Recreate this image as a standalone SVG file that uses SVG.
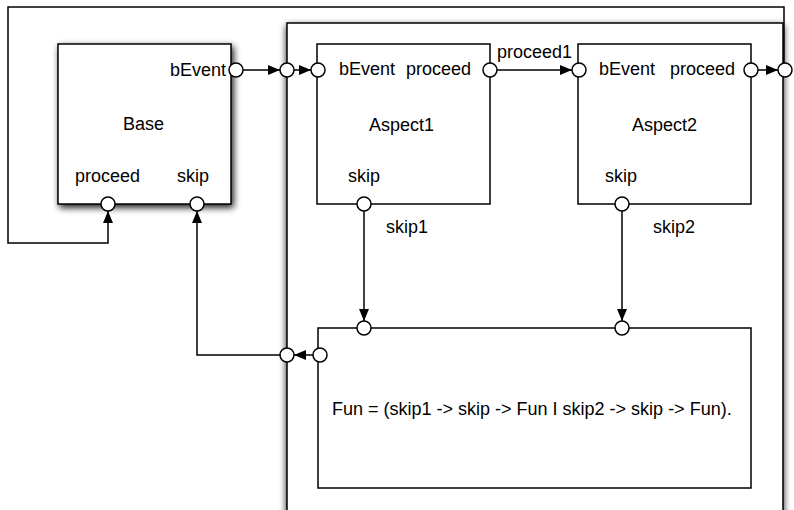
<svg xmlns="http://www.w3.org/2000/svg" width="794" height="510" viewBox="0 0 794 510">
  <style>
    .box { fill: #fff; stroke: #000; stroke-width: 1.5; }
    .port { fill: #fff; stroke: #000; stroke-width: 1.5; }
    .wire { fill: none; stroke: #000; stroke-width: 1.5; }
    text { font-family: "Liberation Sans", Arial, Helvetica, sans-serif; font-size: 18px; fill: #000; }
    .mid { text-anchor: middle; }
    .end { text-anchor: end; }
  </style>
  <defs>
    <filter id="shadow" x="-15%" y="-15%" width="135%" height="135%">
      <feGaussianBlur in="SourceAlpha" stdDeviation="3.5"/>
      <feOffset dx="2" dy="3" result="blur"/>
      <feComponentTransfer><feFuncA type="linear" slope="0.9"/></feComponentTransfer>
      <feMerge><feMergeNode/><feMergeNode in="SourceGraphic"/></feMerge>
    </filter>
    <filter id="shadow-wide" x="-10%" y="-10%" width="125%" height="125%">
      <feGaussianBlur in="SourceAlpha" stdDeviation="3.5"/>
      <feOffset dx="0" dy="3" result="blur"/>
      <feComponentTransfer><feFuncA type="linear" slope="0.9"/></feComponentTransfer>
      <feMerge><feMergeNode/><feMergeNode in="SourceGraphic"/></feMerge>
    </filter>
    <marker id="arrow" viewBox="0 0 12 10" refX="12" refY="5" markerWidth="12" markerHeight="10" markerUnits="userSpaceOnUse" orient="auto">
      <path d="M0,0 L12,5 L0,10 Z" fill="#000"/>
    </marker>
  </defs>

  <rect width="794" height="510" fill="#fff"/>

  <!-- composite container -->
  <g id="container">
    <rect class="box" x="287" y="23" width="496" height="500" filter="url(#shadow-wide)"/>
  </g>

  <!-- connectors -->
  <g id="connectors">
    <line class="wire" x1="243" y1="70" x2="280" y2="70" marker-end="url(#arrow)"/>
    <line class="wire" x1="294" y1="70" x2="311" y2="70" marker-end="url(#arrow)"/>
    <line class="wire" x1="497" y1="70" x2="572" y2="70" marker-end="url(#arrow)"/>
    <line class="wire" x1="758" y1="70" x2="778" y2="70" marker-end="url(#arrow)"/>
    <polyline class="wire" points="784,63 784,7 8,7 8,243 108,243 108,211" marker-end="url(#arrow)"/>
    <line class="wire" x1="364" y1="211" x2="364" y2="321" marker-end="url(#arrow)"/>
    <line class="wire" x1="622" y1="211" x2="622" y2="321" marker-end="url(#arrow)"/>
    <line class="wire" x1="313" y1="355" x2="294" y2="355" marker-end="url(#arrow)"/>
    <polyline class="wire" points="280,355 197,355 197,211" marker-end="url(#arrow)"/>
    <text x="497" y="58">proceed1</text>
    <text x="386" y="233">skip1</text>
    <text x="653" y="233">skip2</text>
  </g>

  <!-- Base -->
  <g id="base">
    <rect class="box" x="58" y="44" width="173" height="160" filter="url(#shadow)"/>
    <text class="end" x="226" y="76">bEvent</text>
    <text class="mid" x="143.5" y="130">Base</text>
    <text x="75" y="182">proceed</text>
    <text x="177" y="182">skip</text>
    <circle class="port" cx="236" cy="70" r="7"/>
    <circle class="port" cx="108" cy="204" r="7"/>
    <circle class="port" cx="197" cy="204" r="7"/>
  </g>

  <!-- container boundary ports -->
  <g id="container-ports">
    <circle class="port" cx="287" cy="70" r="7"/>
    <circle class="port" cx="785" cy="70" r="7"/>
    <circle class="port" cx="287" cy="355" r="7"/>
  </g>

  <!-- Aspect1 -->
  <g id="aspect1">
    <rect class="box" x="317" y="44" width="173" height="160"/>
    <text x="339" y="75">bEvent</text>
    <text x="406" y="75">proceed</text>
    <text class="mid" x="401.5" y="131">Aspect1</text>
    <text x="348" y="182">skip</text>
    <circle class="port" cx="318" cy="70" r="7"/>
    <circle class="port" cx="490" cy="70" r="7"/>
    <circle class="port" cx="364" cy="204" r="7"/>
  </g>

  <!-- Aspect2 -->
  <g id="aspect2">
    <rect class="box" x="578" y="44" width="173" height="160"/>
    <text x="599" y="75">bEvent</text>
    <text x="670" y="75">proceed</text>
    <text class="mid" x="664.5" y="131">Aspect2</text>
    <text x="605" y="182">skip</text>
    <circle class="port" cx="579" cy="70" r="7"/>
    <circle class="port" cx="751" cy="70" r="7"/>
    <circle class="port" cx="622" cy="204" r="7"/>
  </g>

  <!-- Fun process -->
  <g id="fun">
    <rect class="box" x="318" y="328" width="433" height="160"/>
    <text x="332" y="415">Fun = (skip1 -&gt; skip -&gt; Fun I skip2 -&gt; skip -&gt; Fun).</text>
    <circle class="port" cx="364" cy="328" r="7"/>
    <circle class="port" cx="622" cy="328" r="7"/>
    <circle class="port" cx="320" cy="355" r="7"/>
  </g>
</svg>
